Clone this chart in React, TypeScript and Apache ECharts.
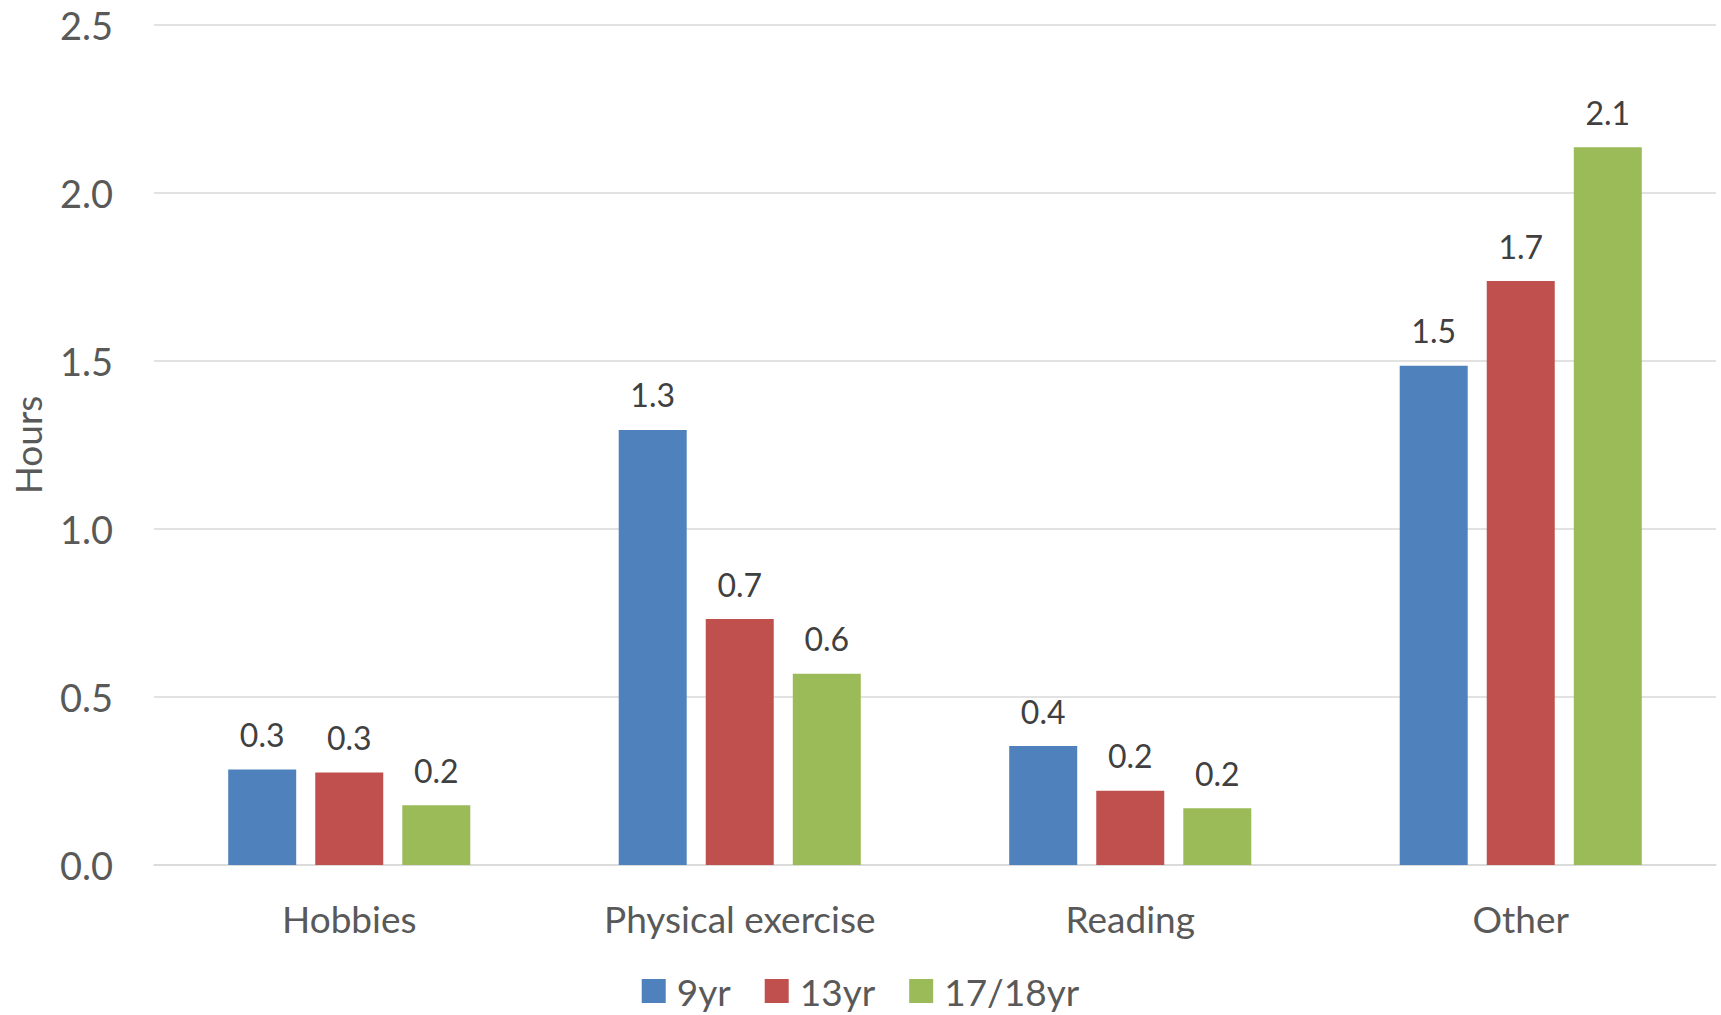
import React, { useEffect, useRef } from "react";
import * as echarts from "echarts";

// Average daily hours per activity, by age group
const categories = ["Hobbies", "Physical exercise", "Reading", "Other"];
const seriesNames = ["9yr", "13yr", "17/18yr"];
const hours9 = [0.284, 1.295, 0.354, 1.486];
const hours13 = [0.275, 0.732, 0.221, 1.738];
const hours1718 = [0.178, 0.569, 0.169, 2.136];
const colors = ["#4F81BD", "#C0504D", "#9BBB59"];

const FONT = "Lato, 'Noto Sans', sans-serif";

export default function App() {
  const ref = useRef<HTMLDivElement>(null);

  useEffect(() => {
    if (!ref.current) return;
    const chart = echarts.init(ref.current, undefined, { renderer: "svg" });
    const values = [hours9, hours13, hours1718];

    chart.setOption({
      animation: false,
      backgroundColor: "#ffffff",
      textStyle: { fontFamily: FONT },
      grid: {
        left: 154,
        right: 5,
        top: 25,
        bottom: 150,
        containLabel: false,
        outerBoundsMode: "none",
      },
      legend: {
        data: seriesNames,
        top: 966,
        left: "center",
        itemWidth: 24,
        itemHeight: 24,
        itemGap: 34,
        icon: "rect",
        textStyle: {
          fontSize: 37,
          lineHeight: 40,
          color: "#595959",
          fontFamily: FONT,
          padding: [0, 0, 0, 6],
        },
      },
      xAxis: {
        type: "category",
        data: categories,
        axisTick: { show: false },
        axisLine: { lineStyle: { color: "#D9D9D9", width: 1.5 } },
        axisLabel: { fontSize: 37, color: "#595959", margin: 35, fontFamily: FONT },
      },
      yAxis: {
        type: "value",
        min: 0,
        max: 2.5,
        interval: 0.5,
        name: "Hours",
        nameLocation: "middle",
        nameRotate: 90,
        nameGap: 108,
        nameTextStyle: { fontSize: 37, color: "#595959", fontFamily: FONT },
        axisLine: { show: false },
        axisTick: { show: false },
        splitLine: { lineStyle: { color: "#D9D9D9", width: 1.5 } },
        axisLabel: {
          fontSize: 38,
          color: "#595959",
          margin: 41,
          fontFamily: FONT,
          formatter: (v: number) => v.toFixed(1),
        },
      },
      series: seriesNames.map((name, i) => ({
        name,
        type: "bar",
        data: values[i],
        barWidth: 68,
        barGap: "28%",
        itemStyle: { color: colors[i] },
        label: {
          show: true,
          position: "top",
          distance: 19,
          fontSize: 32,
          color: "#404040",
          fontFamily: FONT,
          formatter: (p: any) => Number(p.value).toFixed(1),
        },
      })),
    });

    return () => chart.dispose();
  }, []);

  return (
    <div
      ref={ref}
      style={{ position: "fixed", left: 0, top: 0, width: 1721, height: 1015 }}
    />
  );
}
